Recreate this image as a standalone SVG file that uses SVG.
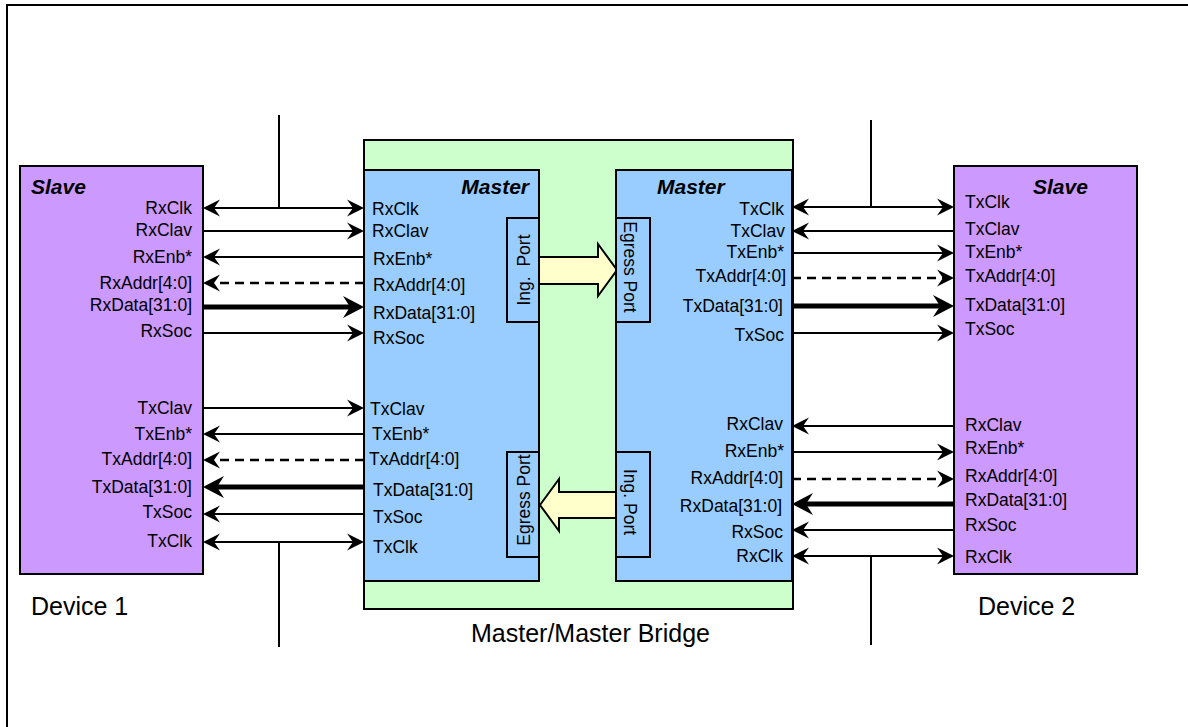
<svg xmlns="http://www.w3.org/2000/svg" width="1188" height="727" viewBox="0 0 1188 727">
<style>
text{font-family:"Liberation Sans",Arial,Helvetica,sans-serif;fill:#000}
.sig{font-size:17.5px}
.title{font-size:21px;font-weight:bold;font-style:italic}
.big{font-size:25px}
.end{text-anchor:end}
.box{stroke:#000;stroke-width:2}
.slave{fill:#CC99FF}
.master{fill:#99CCFF}
.bridge{fill:#CCFFCC}
.barrow{fill:#FFFFCC;stroke:#000;stroke-width:2}
.w{stroke:#000;stroke-width:2;fill:none}
.d{stroke:#000;stroke-width:2.5;fill:none;stroke-dasharray:9 6}
.t{stroke:#000;stroke-width:5;fill:none}
.a{marker-end:url(#ah)}
.aa{marker-start:url(#ah);marker-end:url(#ah)}
.at{marker-end:url(#aht)}
</style>
<defs>
<marker id="ah" viewBox="-22 -10 26 20" refX="-4" refY="0" markerWidth="26" markerHeight="20" markerUnits="userSpaceOnUse" orient="auto-start-reverse">
<path d="M0,0 L-17,-8.5 L-11,0 L-17,8.5 Z" fill="#000"/>
</marker>
<marker id="aht" viewBox="-30 -13 34 26" refX="-8" refY="0" markerWidth="34" markerHeight="26" markerUnits="userSpaceOnUse" orient="auto-start-reverse">
<path d="M0,0 L-21,-11 L-14,0 L-21,11 Z" fill="#000"/>
</marker>
</defs>
<rect width="1188" height="727" fill="#fff"/>
<g id="frame">
<path d="M7,728 L7,5 L1190,5" class="w"/>
</g>
<g id="bridge">
<rect x="364" y="140" width="429" height="469" class="box bridge"/>
<text x="471" y="642" class="big">Master/Master Bridge</text>
</g>
<g id="device1">
<rect x="20" y="166" width="183" height="408" class="box slave"/>
<text x="31" y="194" class="title">Slave</text>
<text x="192" y="214" class="sig end">RxClk</text>
<text x="192" y="236" class="sig end">RxClav</text>
<text x="192" y="263" class="sig end">RxEnb*</text>
<text x="192" y="289" class="sig end">RxAddr[4:0]</text>
<text x="192" y="311" class="sig end">RxData[31:0]</text>
<text x="192" y="337" class="sig end">RxSoc</text>
<text x="192" y="414" class="sig end">TxClav</text>
<text x="192" y="440" class="sig end">TxEnb*</text>
<text x="192" y="465" class="sig end">TxAddr[4:0]</text>
<text x="192" y="493" class="sig end">TxData[31:0]</text>
<text x="192" y="518" class="sig end">TxSoc</text>
<text x="192" y="547" class="sig end">TxClk</text>
<text x="31" y="615" class="big">Device 1</text>
</g>
<g id="device2">
<rect x="954" y="166" width="183" height="408" class="box slave"/>
<text x="1033" y="194" class="title">Slave</text>
<text x="965" y="208" class="sig">TxClk</text>
<text x="965" y="235" class="sig">TxClav</text>
<text x="965" y="258" class="sig">TxEnb*</text>
<text x="965" y="282" class="sig">TxAddr[4:0]</text>
<text x="965" y="311" class="sig">TxData[31:0]</text>
<text x="965" y="335" class="sig">TxSoc</text>
<text x="965" y="431" class="sig">RxClav</text>
<text x="965" y="454" class="sig">RxEnb*</text>
<text x="965" y="482" class="sig">RxAddr[4:0]</text>
<text x="965" y="506" class="sig">RxData[31:0]</text>
<text x="965" y="531" class="sig">RxSoc</text>
<text x="965" y="563" class="sig">RxClk</text>
<text x="978" y="615" class="big">Device 2</text>
</g>
<g id="arrows-block">
<polygon points="539,257 598,257 598,244 617,270 598,296 598,284 539,284" class="barrow"/>
<polygon points="540,505 559,479 559,492 616,492 616,518 559,518 559,531" class="barrow"/>
</g>
<g id="master1">
<rect x="364" y="170" width="175" height="411" class="box master"/>
<text x="529" y="194" class="title end">Master</text>
<text x="372" y="215" class="sig">RxClk</text>
<text x="372" y="237" class="sig">RxClav</text>
<text x="373" y="265" class="sig">RxEnb*</text>
<text x="373" y="291" class="sig">RxAddr[4:0]</text>
<text x="373" y="319" class="sig">RxData[31:0]</text>
<text x="373" y="344" class="sig">RxSoc</text>
<text x="370" y="415" class="sig">TxClav</text>
<text x="372" y="440" class="sig">TxEnb*</text>
<text x="369" y="465" class="sig">TxAddr[4:0]</text>
<text x="373" y="496" class="sig">TxData[31:0]</text>
<text x="373" y="523" class="sig">TxSoc</text>
<text x="373" y="553" class="sig">TxClk</text>
<rect x="507" y="218" width="32" height="104" class="box master"/>
<text transform="translate(530,270) rotate(-90)" class="sig" text-anchor="middle">Ing.&#160; Port</text>
<rect x="507" y="452" width="32" height="105" class="box master"/>
<text transform="translate(530,500) rotate(-90)" class="sig" text-anchor="middle">Egress Port</text>
</g>
<g id="master2">
<rect x="616" y="170" width="176" height="411" class="box master"/>
<text x="657" y="194" class="title">Master</text>
<text x="784" y="215" class="sig end">TxClk</text>
<text x="785" y="237" class="sig end">TxClav</text>
<text x="784" y="258" class="sig end">TxEnb*</text>
<text x="786" y="282" class="sig end">TxAddr[4:0]</text>
<text x="783" y="312" class="sig end">TxData[31:0]</text>
<text x="784" y="341" class="sig end">TxSoc</text>
<text x="783" y="430" class="sig end">RxClav</text>
<text x="784" y="457" class="sig end">RxEnb*</text>
<text x="783" y="484" class="sig end">RxAddr[4:0]</text>
<text x="782" y="512" class="sig end">RxData[31:0]</text>
<text x="783" y="538" class="sig end">RxSoc</text>
<text x="783" y="562" class="sig end">RxClk</text>
<rect x="616" y="218" width="34" height="104" class="box master"/>
<text transform="translate(624,267) rotate(90)" class="sig" text-anchor="middle">Egress Port</text>
<rect x="616" y="452" width="34" height="105" class="box master"/>
<text transform="translate(624,502) rotate(90)" class="sig" text-anchor="middle">Ing. Port</text>
</g>
<g id="connectors">
<line x1="279" y1="115" x2="279" y2="208" class="w"/>
<line x1="279" y1="542" x2="279" y2="647" class="w"/>
<line x1="871" y1="120" x2="871" y2="207" class="w"/>
<line x1="871" y1="556" x2="871" y2="645" class="w"/>
<line x1="207" y1="208" x2="360" y2="208" class="w aa"/>
<line x1="203" y1="231" x2="360" y2="231" class="w a"/>
<line x1="364" y1="257" x2="207" y2="257" class="w a"/>
<line x1="364" y1="283" x2="207" y2="283" class="d a"/>
<line x1="203" y1="307" x2="356" y2="307" class="t at"/>
<line x1="203" y1="333" x2="360" y2="333" class="w a"/>
<line x1="203" y1="408" x2="360" y2="408" class="w a"/>
<line x1="364" y1="434" x2="207" y2="434" class="w a"/>
<line x1="364" y1="460" x2="207" y2="460" class="d a"/>
<line x1="364" y1="487" x2="211" y2="487" class="t at"/>
<line x1="364" y1="514" x2="207" y2="514" class="w a"/>
<line x1="207" y1="542" x2="360" y2="542" class="w aa"/>
<line x1="796" y1="207" x2="950" y2="207" class="w aa"/>
<line x1="954" y1="231" x2="796" y2="231" class="w a"/>
<line x1="792" y1="253" x2="950" y2="253" class="w a"/>
<line x1="792" y1="278" x2="950" y2="278" class="d a"/>
<line x1="792" y1="306" x2="946" y2="306" class="t at"/>
<line x1="792" y1="333" x2="950" y2="333" class="w a"/>
<line x1="954" y1="426" x2="796" y2="426" class="w a"/>
<line x1="792" y1="452" x2="950" y2="452" class="w a"/>
<line x1="792" y1="479" x2="950" y2="479" class="d a"/>
<line x1="954" y1="504" x2="800" y2="504" class="t at"/>
<line x1="954" y1="530" x2="796" y2="530" class="w a"/>
<line x1="796" y1="556" x2="950" y2="556" class="w aa"/>
</g>
</svg>
